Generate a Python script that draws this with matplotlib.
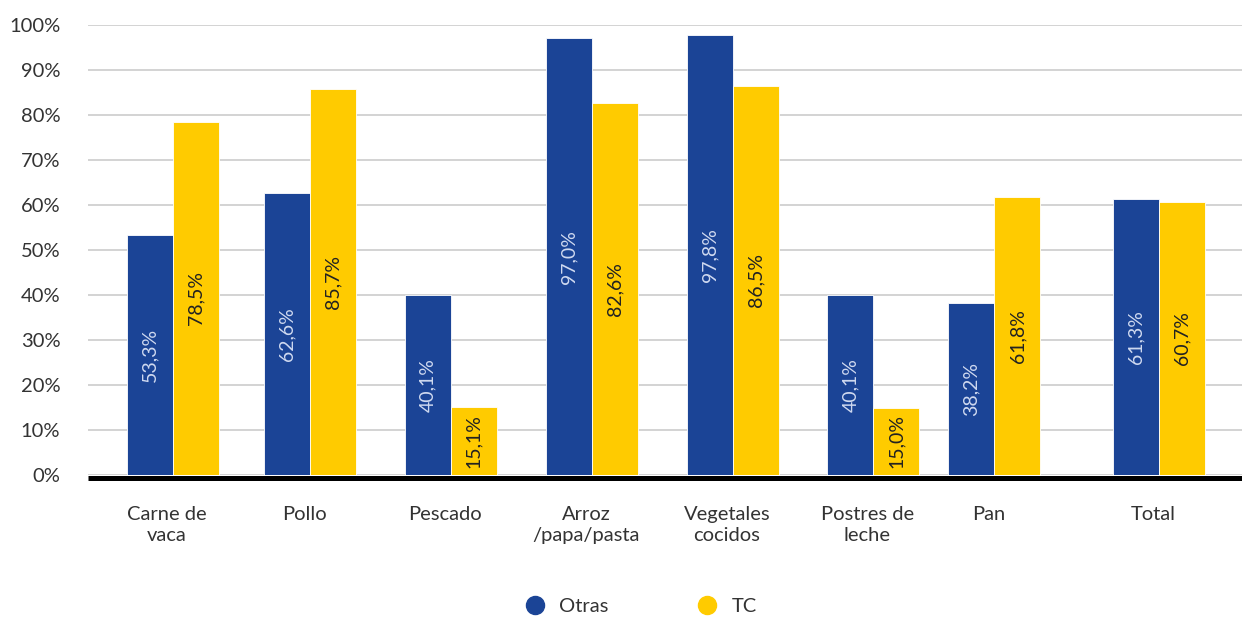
import matplotlib.pyplot as plt
from matplotlib.lines import Line2D
from matplotlib import font_manager
import matplotlib.transforms as mtransforms

categories = ['Carne de\nvaca', 'Pollo', 'Pescado', 'Arroz\n/papa/pasta',
              'Vegetales\ncocidos', 'Postres de\nleche', 'Pan', 'Total']
otras = [53.3, 62.6, 40.1, 97.0, 97.8, 40.1, 38.2, 61.3]
tc = [78.5, 85.7, 15.1, 82.6, 86.5, 15.0, 61.8, 60.7]
series_names = ['Otras', 'TC']

# group centres (Total is set apart from the rest)
positions = [0, 0.975, 1.975, 2.98, 3.98, 4.98, 5.84, 7.01]

BLUE = '#1b4496'
YELLOW = '#ffcb00'
TEXT = '#333333'

names = {f.name for f in font_manager.fontManager.ttflist}
family = 'Lato' if 'Lato' in names else 'DejaVu Sans'
plt.rcParams['font.family'] = [family, 'DejaVu Sans']


def pct(v):
    return f"{v:.1f}%".replace('.', ',')


fig = plt.figure(figsize=(12.42, 6.17), dpi=100)
ax = fig.add_axes([0.0709, 0.2301, 0.9291, 0.7294])

w = 0.327
xb = [p - w / 2 for p in positions]
xy = [p + w / 2 for p in positions]
bars_b = ax.bar(xb, otras, width=w, color=BLUE, edgecolor='white', linewidth=0.6, zorder=3)
bars_y = ax.bar(xy, tc, width=w, color=YELLOW, edgecolor='white', linewidth=0.6, zorder=3)

for bars, vals, col in [(bars_b, otras, '#cfd9f0'), (bars_y, tc, '#222222')]:
    for b, v in zip(bars, vals):
        ax.text(b.get_x() + b.get_width() / 2, v / 2, pct(v), rotation=90,
                ha='center', va='center', fontsize=14, color=col, zorder=4)

ax.set_ylim(0, 100)
ax.set_xlim(-0.604, 7.60)
ax.set_yticks(range(0, 101, 10))
ax.set_yticklabels([f"{t}%" for t in range(0, 101, 10)])
ax.set_xticks(positions)
ax.set_xticklabels(categories, linespacing=1.3)
ax.tick_params(axis='y', length=0, pad=20, labelsize=14.5, labelcolor=TEXT)
ax.tick_params(axis='x', length=0, pad=22, labelsize=14.5, labelcolor=TEXT)
shift = mtransforms.ScaledTranslation(-6 / 100, 0, fig.dpi_scale_trans)
for lbl in ax.get_xticklabels():
    lbl.set_transform(lbl.get_transform() + shift)

ax.grid(axis='y', color='#cccccc', linewidth=1.2, zorder=0)
# thick baseline sitting just under the bars
base = ax.axhline(0, color='black', linewidth=3.6, zorder=2, clip_on=False,
                  solid_capstyle='butt')
down = mtransforms.ScaledTranslation(0, -2.5 / 100, fig.dpi_scale_trans)
base.set_transform(base.get_transform() + down)
for s in ax.spines.values():
    s.set_visible(False)
ax.set_axisbelow(True)

handles = [Line2D([], [], marker='o', linestyle='none', markersize=13,
                  markerfacecolor=c, markeredgecolor=c) for c in (BLUE, YELLOW)]
fig.legend(handles, series_names, loc='center', ncol=2, frameon=False,
           bbox_to_anchor=(636 / 1242, 1 - 606 / 617), fontsize=14.5,
           columnspacing=3.9, handletextpad=0.2, labelcolor=TEXT)

fig.savefig('out.png', dpi=100)
